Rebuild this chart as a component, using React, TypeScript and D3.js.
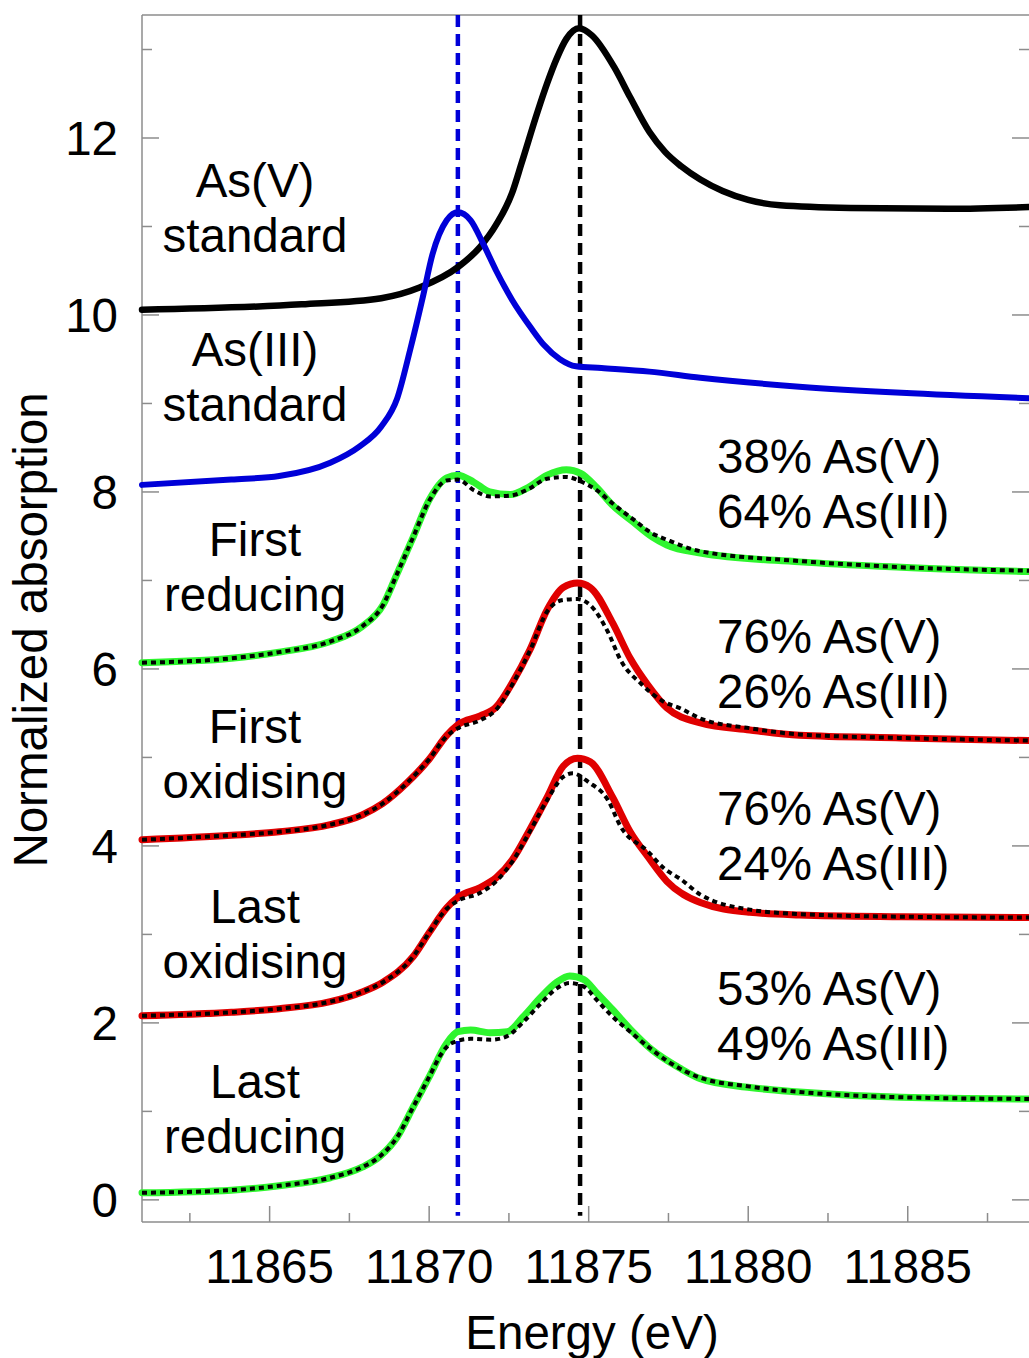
import React from 'react';
import * as d3 from 'd3';

// ---- data ----
const asVStandard: [number, number][] = [
  [11861.0, 10.06], [11866.0, 10.12], [11868.5, 10.19], [11869.7, 10.31], [11870.9, 10.54],
  [11871.6, 10.77], [11872.1, 11.02], [11872.6, 11.38], [11872.9, 11.72], [11873.4, 12.3],
  [11873.7, 12.62], [11874.0, 12.9], [11874.3, 13.12], [11874.7, 13.24], [11875.1, 13.16],
  [11875.8, 12.8], [11876.3, 12.46], [11876.9, 12.07], [11877.4, 11.84], [11877.9, 11.68],
  [11878.5, 11.53], [11879.2, 11.4], [11880.0, 11.3], [11881.0, 11.24], [11883.2, 11.21],
  [11886.3, 11.2], [11888.8, 11.22],
];

const asIIIStandard: [number, number][] = [
  [11861, 8.08], [11863.8, 8.14], [11865.3, 8.18], [11866.9, 8.33], [11867.8, 8.51],
  [11868.5, 8.74], [11869.0, 9.06], [11869.4, 9.6], [11869.8, 10.2], [11870.1, 10.68],
  [11870.55, 11.07], [11870.9, 11.16], [11871.3, 11.07], [11871.7, 10.8], [11872.1, 10.5],
  [11872.6, 10.17], [11873.2, 9.85], [11873.6, 9.66], [11874.1, 9.5], [11874.6, 9.42],
  [11875.4, 9.4], [11876.9, 9.36], [11878.5, 9.29], [11881.6, 9.19], [11884.8, 9.12],
  [11888.8, 9.06],
];

const firstReducing: [number, number][] = [
  [11861, 6.07], [11863.8, 6.12], [11865.3, 6.19], [11866.9, 6.31], [11867.9, 6.48],
  [11868.55, 6.72], [11869.0, 7.08], [11869.5, 7.49], [11870.0, 7.91], [11870.55, 8.16],
  [11870.9, 8.19], [11871.4, 8.11], [11871.9, 8.0], [11872.55, 7.97], [11873.1, 8.05],
  [11873.7, 8.19], [11874.3, 8.25], [11874.75, 8.21], [11875.25, 8.05], [11875.75, 7.85],
  [11876.4, 7.66], [11877.0, 7.49], [11877.45, 7.4], [11878.5, 7.31], [11881.6, 7.21],
  [11884.8, 7.15], [11888.8, 7.1],
];
const firstReducingFit: [number, number][] = [
  [11861, 6.07], [11863.8, 6.12], [11865.3, 6.19], [11866.9, 6.31], [11867.9, 6.48],
  [11868.55, 6.72], [11869.0, 7.08], [11869.5, 7.49], [11870.0, 7.9], [11870.55, 8.13],
  [11870.9, 8.14], [11871.4, 8.02], [11871.9, 7.95], [11872.55, 7.96], [11873.1, 8.03],
  [11873.7, 8.15], [11874.3, 8.17], [11874.75, 8.12], [11875.25, 8.02], [11875.75, 7.87],
  [11876.4, 7.69], [11877.0, 7.53], [11877.45, 7.46], [11878.5, 7.33], [11881.6, 7.22],
  [11884.8, 7.15], [11888.8, 7.11],
];

const firstOxidising: [number, number][] = [
  [11861, 4.07], [11863.8, 4.12], [11865.3, 4.16], [11866.9, 4.24], [11867.9, 4.35],
  [11868.55, 4.48], [11869.3, 4.71], [11870.0, 4.98], [11870.55, 5.25], [11870.9, 5.37],
  [11871.6, 5.47], [11872.1, 5.57], [11872.6, 5.84], [11873.15, 6.21], [11873.7, 6.67],
  [11874.2, 6.92], [11874.65, 6.97], [11875.05, 6.92], [11875.75, 6.52], [11876.3, 6.12],
  [11876.85, 5.82], [11877.45, 5.56], [11878.5, 5.39], [11880.05, 5.31], [11881.6, 5.25],
  [11884.8, 5.22], [11888.8, 5.19],
];
const firstOxidisingFit: [number, number][] = [
  [11861, 4.07], [11863.8, 4.12], [11865.3, 4.16], [11866.9, 4.24], [11867.9, 4.35],
  [11868.55, 4.48], [11869.3, 4.71], [11870.0, 4.98], [11870.55, 5.24], [11870.9, 5.33],
  [11871.6, 5.42], [11872.1, 5.54], [11872.6, 5.82], [11873.15, 6.2], [11873.7, 6.65],
  [11874.2, 6.78], [11874.65, 6.79], [11875.05, 6.72], [11875.6, 6.42], [11876.0, 6.1],
  [11876.65, 5.83], [11877.35, 5.63], [11877.9, 5.55], [11878.5, 5.44], [11880.05, 5.33],
  [11881.6, 5.26], [11884.8, 5.22], [11888.8, 5.19],
];

const lastOxidising: [number, number][] = [
  [11861, 2.08], [11863.8, 2.12], [11865.3, 2.16], [11866.9, 2.24], [11867.9, 2.35],
  [11868.55, 2.46], [11869.5, 2.75], [11870.0, 3.02], [11870.55, 3.3], [11870.9, 3.42],
  [11871.6, 3.53], [11872.1, 3.64], [11872.6, 3.84], [11873.15, 4.18], [11873.7, 4.55],
  [11874.2, 4.9], [11874.65, 4.99], [11875.05, 4.95], [11875.75, 4.55], [11876.3, 4.16],
  [11876.85, 3.88], [11877.45, 3.6], [11878.5, 3.36], [11880.05, 3.25], [11881.6, 3.22],
  [11884.8, 3.2], [11888.8, 3.19],
];
const lastOxidisingFit: [number, number][] = [
  [11861, 2.08], [11863.8, 2.12], [11865.3, 2.16], [11866.9, 2.24], [11867.9, 2.35],
  [11868.55, 2.46], [11869.5, 2.75], [11870.0, 3.02], [11870.55, 3.29], [11870.9, 3.38],
  [11871.6, 3.47], [11872.1, 3.6], [11872.6, 3.82], [11873.15, 4.16], [11873.7, 4.52],
  [11874.2, 4.78], [11874.5, 4.82], [11875.0, 4.72], [11875.6, 4.52], [11876.0, 4.22],
  [11876.85, 3.94], [11877.35, 3.75], [11877.9, 3.62], [11878.5, 3.45], [11880.05, 3.28],
  [11881.6, 3.23], [11884.8, 3.2], [11888.8, 3.19],
];

const lastReducing: [number, number][] = [
  [11861, 0.08], [11863.8, 0.11], [11865.3, 0.16], [11866.9, 0.25], [11867.9, 0.37],
  [11868.45, 0.49], [11869.0, 0.71], [11869.5, 1.05], [11870.0, 1.39], [11870.55, 1.77],
  [11870.9, 1.9], [11871.3, 1.92], [11871.9, 1.89], [11872.45, 1.9], [11872.95, 2.07],
  [11873.5, 2.29], [11874.0, 2.46], [11874.4, 2.53], [11874.85, 2.49], [11875.25, 2.34],
  [11875.75, 2.15], [11876.3, 1.93], [11877.0, 1.69], [11877.85, 1.49], [11878.5, 1.37],
  [11880.05, 1.27], [11881.6, 1.22], [11884.8, 1.16], [11888.8, 1.14],
];
const lastReducingFit: [number, number][] = [
  [11861, 0.08], [11863.8, 0.11], [11865.3, 0.16], [11866.9, 0.25], [11867.9, 0.37],
  [11868.45, 0.49], [11869.0, 0.71], [11869.5, 1.05], [11870.0, 1.39], [11870.4, 1.66],
  [11870.7, 1.77], [11871.3, 1.82], [11871.95, 1.81], [11872.45, 1.85], [11872.95, 2.01],
  [11873.5, 2.22], [11874.0, 2.39], [11874.4, 2.45], [11874.85, 2.41], [11875.25, 2.26],
  [11875.75, 2.07], [11876.3, 1.9], [11876.9, 1.72], [11877.5, 1.56], [11878.5, 1.38],
  [11880.05, 1.28], [11881.6, 1.22], [11884.8, 1.16], [11888.8, 1.14],
];

const refEnergies = [11870.9, 11874.73];
const xMajorTicks = [11865, 11870, 11875, 11880, 11885];
const xMinorTicks = [11862.5, 11867.5, 11872.5, 11877.5, 11882.5, 11887.5];
const yMajorTicks = [0, 2, 4, 6, 8, 10, 12];
const yMinorTicks = [1, 3, 5, 7, 9, 11, 13];

const leftLabels = [
  { lines: ['As(V)', 'standard'], y: 11.33 },
  { lines: ['As(III)', 'standard'], y: 9.42 },
  { lines: ['First', 'reducing'], y: 7.28 },
  { lines: ['First', 'oxidising'], y: 5.16 },
  { lines: ['Last', 'oxidising'], y: 3.13 },
  { lines: ['Last', 'reducing'], y: 1.15 },
];
const fitLabels = [
  { lines: ['38% As(V)', '64% As(III)'], y: 8.21 },
  { lines: ['76% As(V)', '26% As(III)'], y: 6.18 },
  { lines: ['76% As(V)', '24% As(III)'], y: 4.24 },
  { lines: ['53% As(V)', '49% As(III)'], y: 2.2 },
];

const BLUE = '#0000D8';
const GREEN = '#2EF52E';
const RED = '#E00000';

export default function App() {
  const W = 1029;
  const H = 1358;
  const left = 142, right = 1029, top = 15, bottom = 1222;
  const x = d3.scaleLinear().domain([11861, 11888.8]).range([left, right]);
  const y = d3.scaleLinear().domain([-0.25, 13.39]).range([bottom, top]);
  const line = d3
    .line<[number, number]>()
    .x((d) => x(d[0]))
    .y((d) => y(d[1]))
    .curve(d3.curveMonotoneX);

  const font = "'Liberation Sans', Arial, Helvetica, sans-serif";
  const axisColor = '#8c8c8c';
  const fs = 47.5;

  const samples = [
    { d: asVStandard, c: '#000000', w: 6.5 },
    { d: asIIIStandard, c: BLUE, w: 6 },
    { d: firstReducing, c: GREEN, w: 7 },
    { d: firstOxidising, c: RED, w: 7 },
    { d: lastOxidising, c: RED, w: 7 },
    { d: lastReducing, c: GREEN, w: 7 },
  ];
  const fits = [firstReducingFit, firstOxidisingFit, lastOxidisingFit, lastReducingFit];

  return (
    <svg
      width={W}
      height={H}
      style={{ position: 'absolute', left: 0, top: 0, background: '#fff' }}
      fontFamily={font}
    >
      <rect x={0} y={0} width={W} height={H} fill="#fff" />
      {/* frame */}
      <line x1={left} x2={left} y1={top} y2={bottom} stroke={axisColor} strokeWidth={1.5} />
      <line x1={left} x2={right} y1={top} y2={top} stroke={axisColor} strokeWidth={1.5} />
      <line x1={left} x2={right} y1={bottom} y2={bottom} stroke={axisColor} strokeWidth={1.5} />
      {/* y ticks */}
      {yMajorTicks.map((t) => (
        <g key={'ym' + t}>
          <line x1={left} x2={left + 17} y1={y(t)} y2={y(t)} stroke={axisColor} strokeWidth={1.5} />
          <line x1={right - 17} x2={right} y1={y(t)} y2={y(t)} stroke={axisColor} strokeWidth={1.5} />
          <text x={118} y={y(t) + 17} textAnchor="end" fontSize={fs} fill="#000">
            {t}
          </text>
        </g>
      ))}
      {yMinorTicks.map((t) => (
        <g key={'yn' + t}>
          <line x1={left} x2={left + 10} y1={y(t)} y2={y(t)} stroke={axisColor} strokeWidth={1.5} />
          <line x1={right - 10} x2={right} y1={y(t)} y2={y(t)} stroke={axisColor} strokeWidth={1.5} />
        </g>
      ))}
      {/* x ticks */}
      {xMajorTicks.map((t) => (
        <g key={'xm' + t}>
          <line x1={x(t)} x2={x(t)} y1={bottom} y2={bottom - 16} stroke={axisColor} strokeWidth={1.5} />
          <text x={x(t)} y={1283} textAnchor="middle" fontSize={fs} fill="#000">
            {t}
          </text>
        </g>
      ))}
      {xMinorTicks.map((t) => (
        <line key={'xn' + t} x1={x(t)} x2={x(t)} y1={bottom} y2={bottom - 9} stroke={axisColor} strokeWidth={1.5} />
      ))}
      {/* axis titles */}
      <text x={592} y={1349} textAnchor="middle" fontSize={fs} fill="#000">
        Energy (eV)
      </text>
      <text
        transform={`translate(47, 630) rotate(-90)`}
        textAnchor="middle"
        fontSize={fs}
        fill="#000"
      >
        Normalized absorption
      </text>
      {/* reference lines */}
      {refEnergies.map((e, i) => (
        <line
          key={'ref' + i}
          x1={x(e)}
          x2={x(e)}
          y1={y(13.39)}
          y2={y(-0.18)}
          stroke={i === 0 ? BLUE : '#000'}
          strokeWidth={4.5}
          strokeDasharray="12,7"
        />
      ))}
      {/* samples */}
      {samples.map((s, i) => (
        <path
          key={'s' + i}
          d={line(s.d) || ''}
          fill="none"
          stroke={s.c}
          strokeWidth={s.w}
          strokeLinejoin="round"
          strokeLinecap="round"
        />
      ))}
      {/* fits */}
      {fits.map((f, i) => (
        <path
          key={'f' + i}
          d={line(f) || ''}
          fill="none"
          stroke="#000"
          strokeWidth={4}
          strokeDasharray="5,4"
        />
      ))}
      {/* labels */}
      {leftLabels.map((l, i) => (
        <text key={'ll' + i} textAnchor="middle" fontSize={fs} fill="#000">
          <tspan x={255} y={y(l.y)}>{l.lines[0]}</tspan>
          <tspan x={255} y={y(l.y) + 55}>{l.lines[1]}</tspan>
        </text>
      ))}
      {fitLabels.map((l, i) => (
        <text key={'fl' + i} textAnchor="start" fontSize={fs} fill="#000">
          <tspan x={717} y={y(l.y)}>{l.lines[0]}</tspan>
          <tspan x={717} y={y(l.y) + 55}>{l.lines[1]}</tspan>
        </text>
      ))}
    </svg>
  );
}
